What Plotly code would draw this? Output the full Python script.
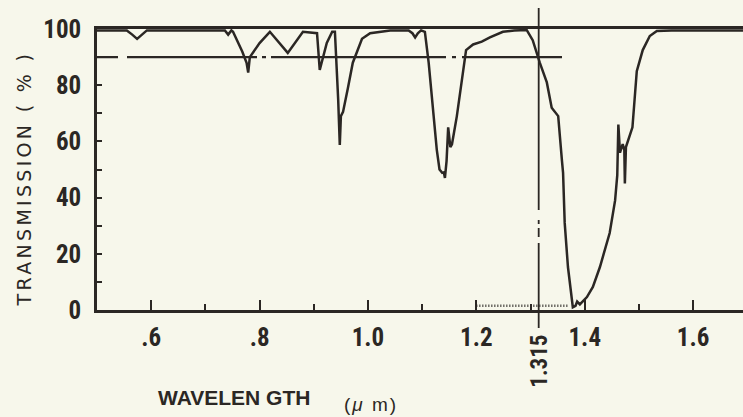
import plotly.graph_objects as go

# Transmission spectrum (wavelength in micrometres, transmission in %)
wavelength = [
    0.500, 0.555, 0.565, 0.574, 0.583, 0.592, 0.700, 0.736, 0.742, 0.748,
    0.751, 0.768, 0.776, 0.779, 0.782, 0.800, 0.819, 0.852, 0.880, 0.906,
    0.911, 0.924, 0.934, 0.939, 0.945, 0.948, 0.950, 0.954, 0.963, 0.972,
    0.980, 0.989, 1.004, 1.041, 1.075, 1.082, 1.087, 1.092, 1.098, 1.105,
    1.112, 1.120, 1.127, 1.132, 1.137, 1.140, 1.142, 1.145, 1.148, 1.152,
    1.155, 1.164, 1.173, 1.181, 1.194, 1.210, 1.225, 1.249, 1.270, 1.293,
    1.304, 1.317, 1.330, 1.339, 1.351, 1.354, 1.358, 1.360, 1.363, 1.369,
    1.376, 1.378, 1.383, 1.386, 1.391, 1.398, 1.404, 1.415, 1.428, 1.446,
    1.456, 1.460, 1.462, 1.465, 1.470, 1.473, 1.474, 1.476, 1.481, 1.488,
    1.492, 1.496, 1.507, 1.520, 1.533, 1.560, 1.692,
]
transmission = [
    99.5, 99.5, 98.0, 96.5, 98.0, 99.5, 99.5, 99.5, 98.0, 99.5,
    99.0, 92.0, 88.0, 84.5, 90.0, 95.0, 99.0, 91.5, 99.0, 98.5,
    85.4, 95.0, 99.0, 99.0, 75.0, 58.7, 69.0, 70.5, 79.0, 88.0,
    92.0, 96.5, 98.5, 99.5, 99.5, 98.5, 97.0, 98.5, 99.5, 99.0,
    88.0, 72.0, 57.0, 50.0, 48.8, 49.0, 47.0, 53.0, 65.0, 58.0,
    59.0, 69.0, 81.0, 92.5, 94.5, 95.5, 97.0, 99.0, 99.5, 99.6,
    96.0, 88.0, 81.0, 72.0, 69.0, 61.0, 53.0, 48.8, 31.0, 15.3,
    2.5, 1.0, 1.5, 3.0, 2.0, 3.5, 4.6, 8.2, 15.3, 27.4,
    39.0, 48.0, 66.0, 56.0, 59.0, 57.0, 45.0, 58.0, 61.0, 65.0,
    75.0, 85.0, 92.5, 97.5, 99.3, 99.5, 99.5,
]

# Hatched near-zero baseline segment
hatch_x = [1.200, 1.370]
hatch_y = [1.5, 1.5]

# Reference levels
ref_level = 90            # % transmission guide line
ref_level_end = 1.358     # where the guide line stops
marker_wavelength = 1.315

x_range = [0.5, 1.692]
y_range = [0, 100]

x_tickvals = [0.6, 0.8, 1.0, 1.2, 1.4, 1.6]
x_ticktext = [".6", ".8", "1.0", "1.2", "1.4", "1.6"]
y_tickvals = [0, 20, 40, 60, 80, 100]
y_ticktext = ["0", "20", "40", "60", "80", "100"]

INK = "#2b2724"
BG = "#f7f7eb"
NARROW = "Roboto Condensed, Open Sans Condensed, sans-serif"
SANS = "Liberation Sans, Arial, sans-serif"
WIDE = "DejaVu Sans, Verdana, sans-serif"

fig = go.Figure()

fig.add_trace(go.Scatter(
    x=hatch_x, y=hatch_y, mode="lines",
    line=dict(color=INK, width=2.5, dash="1px,2px"),
    hoverinfo="skip", showlegend=False,
))

fig.add_trace(go.Scatter(
    x=wavelength, y=transmission, mode="lines",
    line=dict(color=INK, width=2.5),
    showlegend=False,
))

# 90 % guide line (long dash with dots)
fig.add_shape(
    type="line", xref="x", yref="y",
    x0=x_range[0], x1=ref_level_end, y0=ref_level, y1=ref_level,
    line=dict(color=INK, width=2.2,
              dash="21px,9px,130px,5px,4px,5px,175px,6px,4px,6px,200px"),
)

# vertical marker at 1.315 um, running above the frame and below the axis
fig.add_shape(
    type="line", xref="x", yref="paper",
    x0=marker_wavelength, x1=marker_wavelength, y0=1.075, y1=-0.064,
    line=dict(color=INK, width=1.8,
              dash="202px,10px,4px,4px,9px,6px,200px"),
)

fig.add_annotation(
    x=marker_wavelength, xref="x", y=-0.1815, yref="paper",
    xanchor="center", yanchor="middle",
    text="1.315", textangle=-90, showarrow=False,
    font=dict(family=NARROW, size=23, color=INK, weight="bold"),
)

fig.add_annotation(
    x=0.212, xref="paper", y=-0.310, yref="paper",
    xanchor="center", yanchor="middle", text="WAVELEN GTH",
    showarrow=False,
    font=dict(family=SANS, size=21, color=INK, weight="bold"),
)
fig.add_annotation(
    x=0.424, xref="paper", y=-0.335, yref="paper",
    xanchor="center", yanchor="middle",
    text='<span style="letter-spacing:2px">(<i>μ</i> m)</span>',
    showarrow=False,
    font=dict(family=SANS, size=19, color=INK),
)

fig.add_annotation(
    x=-0.1138, xref="paper", y=0.47, yref="paper",
    xanchor="center", yanchor="middle", textangle=-90,
    text='<span style="letter-spacing:3.3px">TRANSMISSION ( % )</span>',
    showarrow=False,
    font=dict(family=WIDE, size=19, color=INK),
)

fig.update_layout(
    width=743, height=417,
    margin=dict(l=97, r=0, t=29, b=107),
    paper_bgcolor=BG, plot_bgcolor=BG,
    showlegend=False,
)

fig.update_xaxes(
    range=x_range, showgrid=False, zeroline=False,
    showline=True, linecolor=INK, linewidth=2.6, mirror=True,
    ticks="inside", ticklen=10, tickwidth=2, tickcolor=INK,
    tickvals=x_tickvals, ticktext=x_ticktext,
    tickfont=dict(family=NARROW, size=25, color=INK, weight="bold"),
    ticklabelstandoff=3,
    minor=dict(dtick=0.1, tick0=0.5, ticks="inside", ticklen=6, tickwidth=2, tickcolor=INK),
)
fig.update_yaxes(
    range=y_range, showgrid=False, zeroline=False,
    showline=True, linecolor=INK, linewidth=2.6,
    ticks="inside", ticklen=5, tickwidth=2, tickcolor=INK,
    tickvals=y_tickvals, ticktext=y_ticktext,
    tickfont=dict(family=NARROW, size=25, color=INK, weight="bold"),
    ticklabelstandoff=8,
    minor=dict(dtick=10, tick0=0, ticks="inside", ticklen=5, tickwidth=2, tickcolor=INK),
)

fig.write_html("out.html")
